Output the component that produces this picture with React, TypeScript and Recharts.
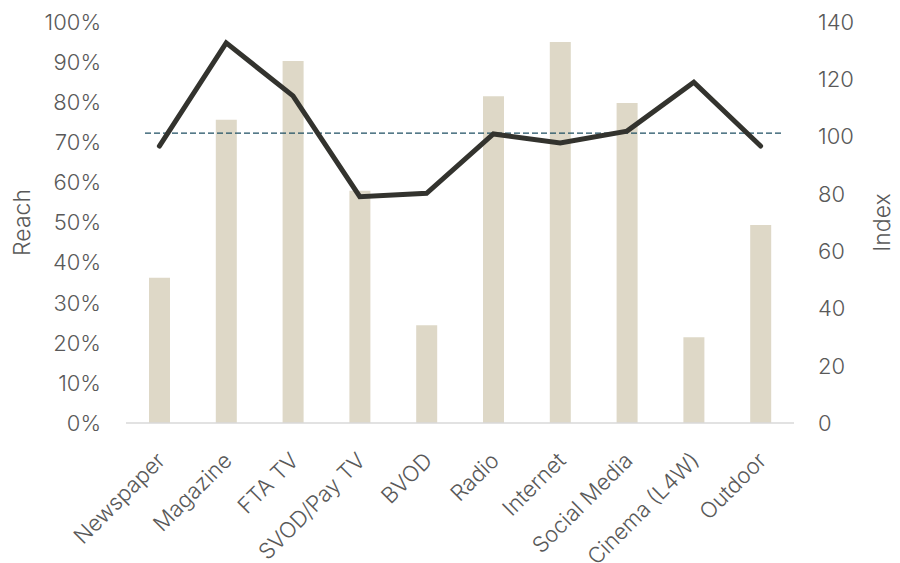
import { Bar, ComposedChart, Label, Line, ReferenceLine, XAxis, YAxis } from "recharts";

const channels = [
    "Newspaper",
    "Magazine",
    "FTA TV",
    "SVOD/Pay TV",
    "BVOD",
    "Radio",
    "Internet",
    "Social Media",
    "Cinema (L4W)",
    "Outdoor",
];
const reach = [0.362, 0.756, 0.903, 0.579, 0.244, 0.815, 0.95, 0.798, 0.214, 0.494];
const index = [96.7, 132.7, 114.2, 79.0, 80.2, 100.9, 97.8, 101.9, 119.0, 96.7];
const reachTicks = [0, 0.1, 0.2, 0.3, 0.4, 0.5, 0.6, 0.7, 0.8, 0.9, 1];
const indexTicks = [0, 20, 40, 60, 80, 100, 120, 140];
const benchmark = 101.2;

const data = channels.map((name, i) => ({ name, reach: reach[i], index: index[i] }));

const FONT = "Inter, 'Liberation Sans', sans-serif";
const TEXT = "#595959";

function CategoryTick(props: any) {
    const { x, y, payload } = props;
    const tx = x + 7;
    const ty = y + 31;
    return (
        <text
            x={tx}
            y={ty}
            transform={`rotate(-45, ${tx}, ${ty})`}
            textAnchor="end"
            fill={TEXT}
            fontSize={22}
            fontWeight={300}
            fontFamily={FONT}
        >
            {payload.value}
        </text>
    );
}

function WideDash(props: any) {
    const { x1, y1, x2, y2 } = props;
    return (
        <line
            x1={x1 - 13}
            y1={y1}
            x2={x2 + 16}
            y2={y2}
            stroke="#1E4F63"
            strokeWidth={1.3}
            strokeDasharray="6 3"
        />
    );
}

export default function App() {
    return (
        <div style={{ position: "absolute", left: 0, top: 0, width: 900, height: 563, background: "#fff" }}>
            <ComposedChart width={900} height={563} data={data} margin={{ top: 22, right: 0, bottom: 0, left: 0 }}>
                <XAxis
                    dataKey="name"
                    interval={0}
                    height={140}
                    tickLine={false}
                    axisLine={{ stroke: "#D9D9D9", strokeWidth: 1.5 }}
                    tick={<CategoryTick />}
                />
                <YAxis
                    yAxisId="left"
                    width={126}
                    domain={[0, 1]}
                    ticks={reachTicks}
                    tickFormatter={(v: number) => `${Math.round(v * 100)}%`}
                    axisLine={false}
                    tickLine={false}
                    tickSize={0}
                    tickMargin={25}
                    tick={{ fill: TEXT, fontSize: 22, fontWeight: 300, fontFamily: FONT }}
                >
                    <Label
                        content={(p: any) => {
                            const vb = p.viewBox;
                            const cx = 22;
                            const cy = vb.y + vb.height / 2;
                            return (
                                <text
                                    x={cx}
                                    y={cy}
                                    transform={`rotate(-90, ${cx}, ${cy})`}
                                    textAnchor="middle"
                                    dominantBaseline="central"
                                    fill={TEXT}
                                    fontSize={23}
                                    fontWeight={300}
                                    fontFamily={FONT}
                                >
                                    Reach
                                </text>
                            );
                        }}
                    />
                </YAxis>
                <YAxis
                    yAxisId="right"
                    orientation="right"
                    width={106}
                    domain={[0, 140]}
                    ticks={indexTicks}
                    axisLine={false}
                    tickLine={false}
                    tickSize={0}
                    tickMargin={24}
                    tick={{ fill: TEXT, fontSize: 22, fontWeight: 300, fontFamily: FONT }}
                >
                    <Label
                        content={(p: any) => {
                            const vb = p.viewBox;
                            const cx = 882;
                            const cy = vb.y + vb.height / 2;
                            return (
                                <text
                                    x={cx}
                                    y={cy}
                                    transform={`rotate(-90, ${cx}, ${cy})`}
                                    textAnchor="middle"
                                    dominantBaseline="central"
                                    fill={TEXT}
                                    fontSize={23}
                                    fontWeight={300}
                                    fontFamily={FONT}
                                >
                                    Index
                                </text>
                            );
                        }}
                    />
                </YAxis>
                <Bar yAxisId="left" dataKey="reach" fill="#DED8C7" barSize={21} isAnimationActive={false} />
                <ReferenceLine yAxisId="right" y={benchmark} shape={<WideDash />} ifOverflow="visible" />
                <Line
                    yAxisId="right"
                    dataKey="index"
                    stroke="#33332E"
                    strokeWidth={5}
                    strokeLinecap="round"
                    strokeLinejoin="miter"
                    dot={false}
                    activeDot={false}
                    isAnimationActive={false}
                />
            </ComposedChart>
        </div>
    );
}
